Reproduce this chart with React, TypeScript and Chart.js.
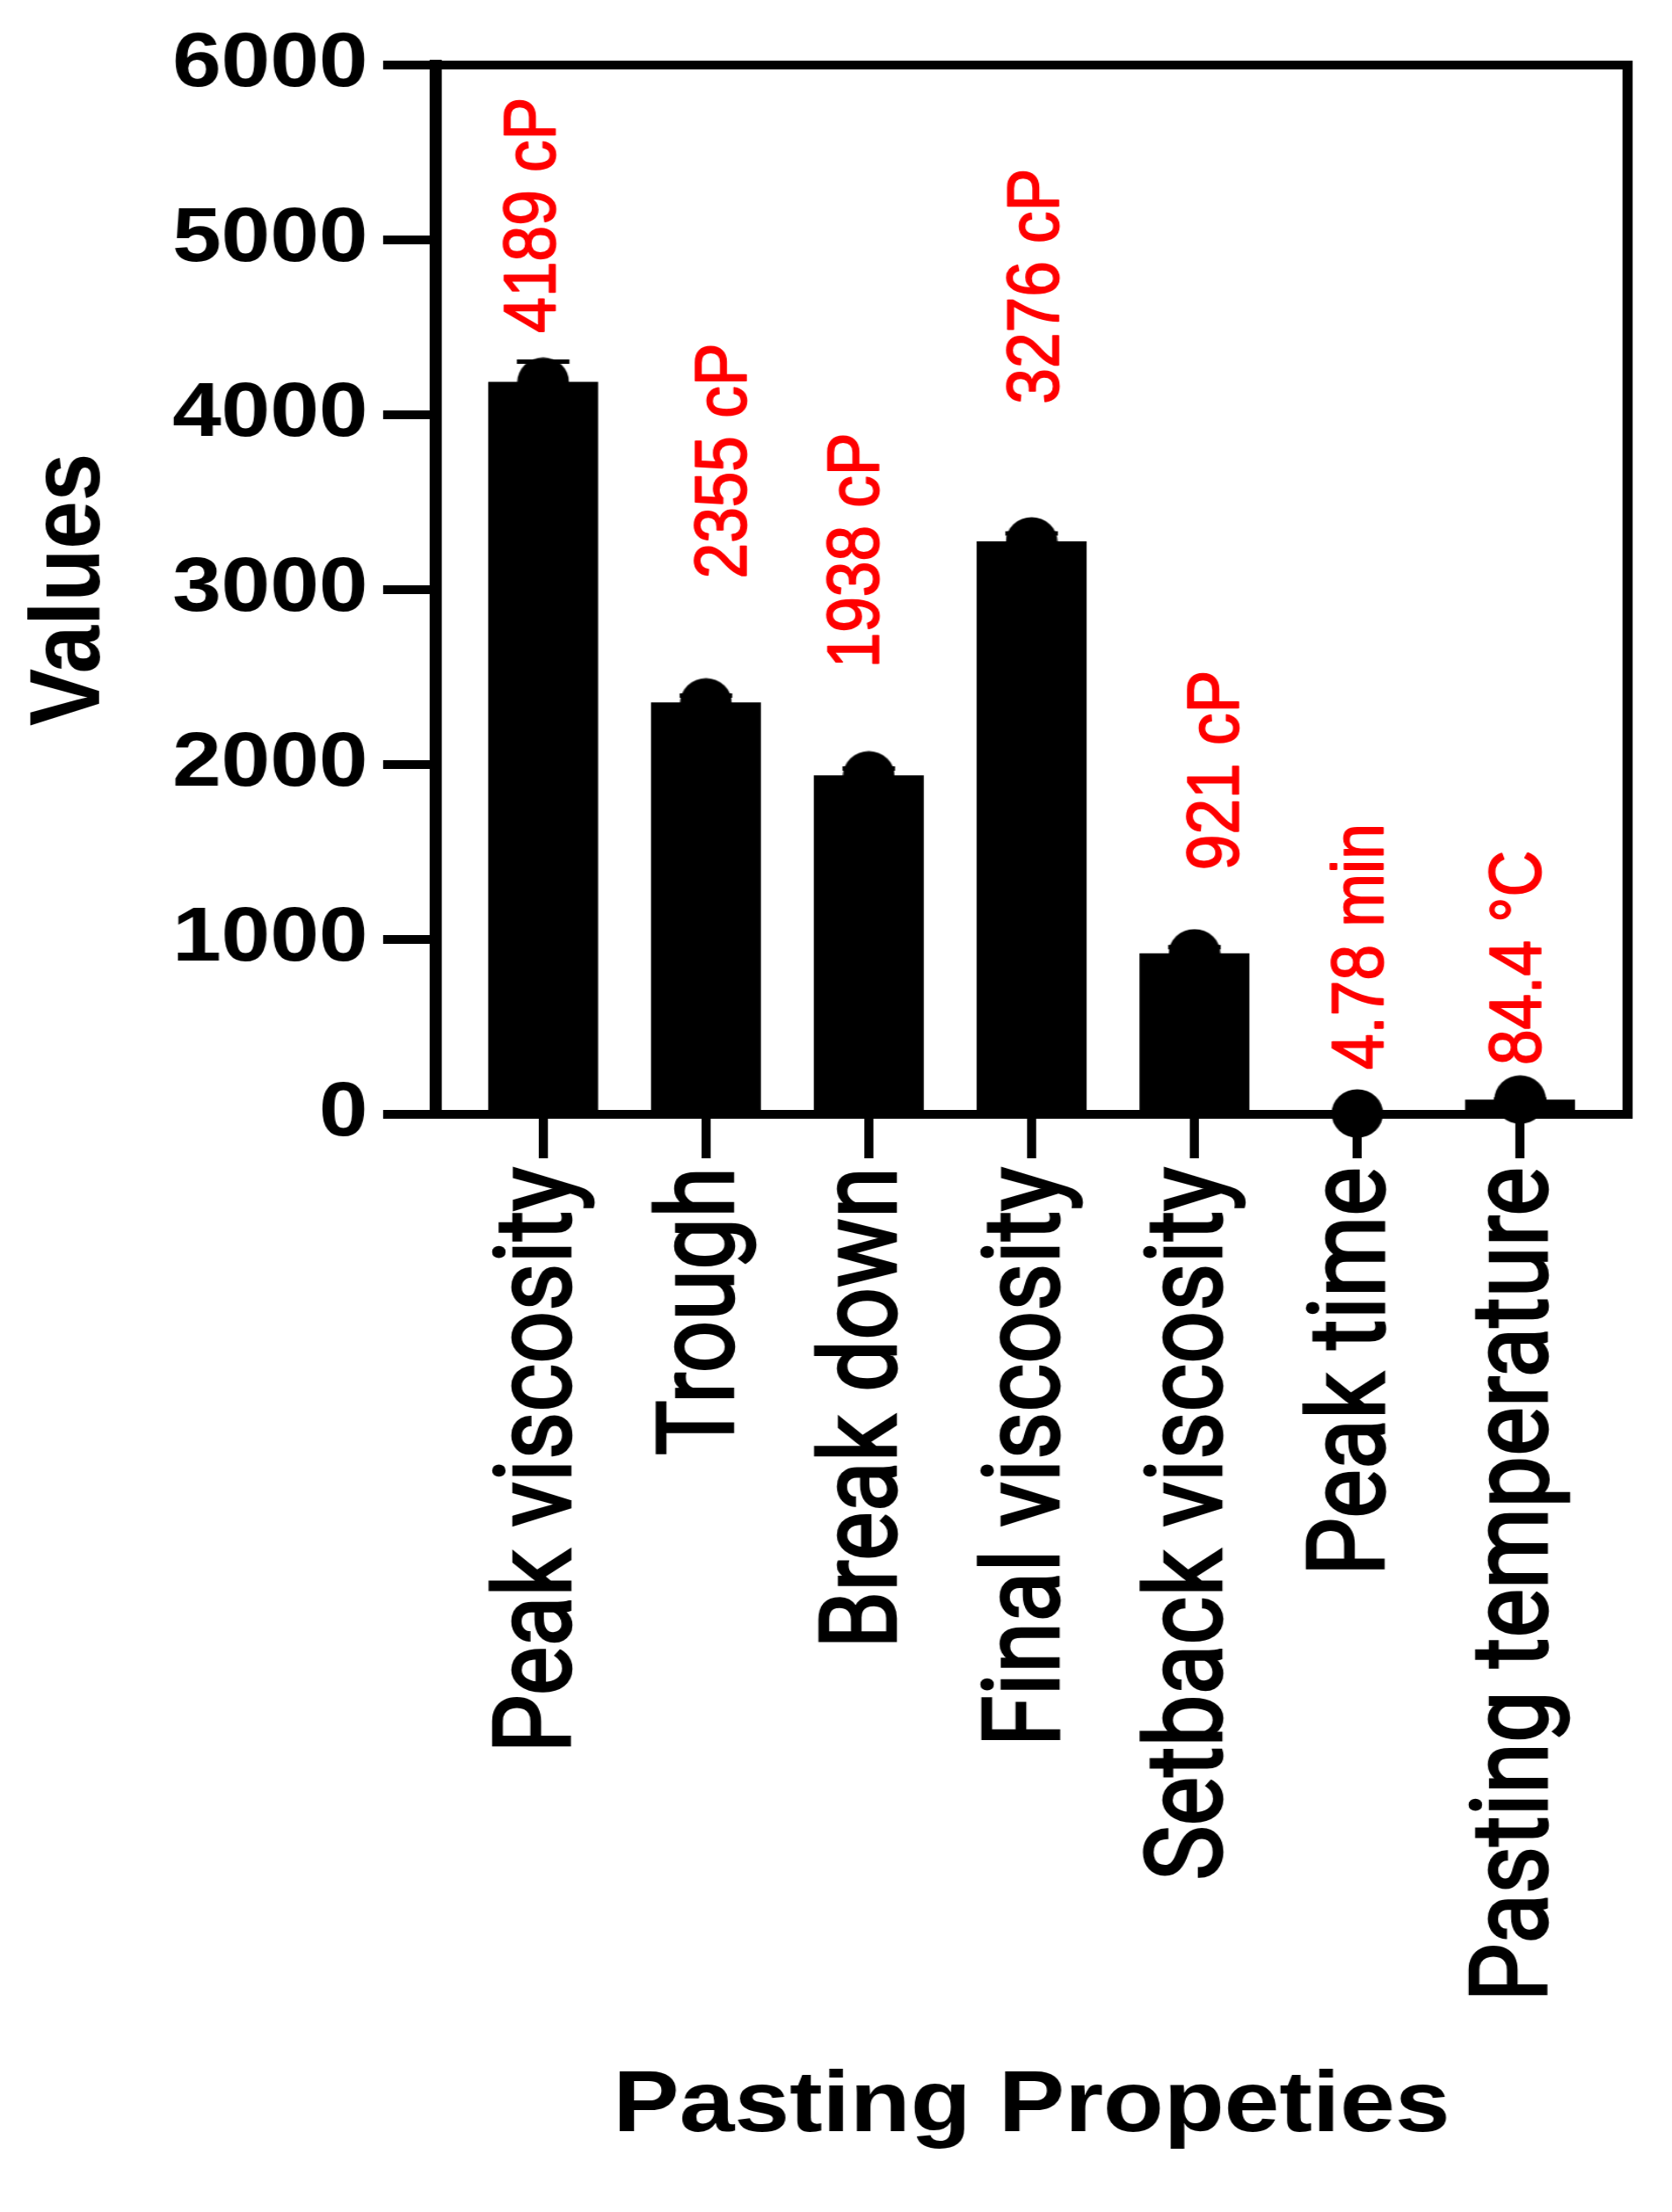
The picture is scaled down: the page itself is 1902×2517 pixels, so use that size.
import React, { useEffect, useRef } from 'react';
import { Chart, registerables } from 'chart.js';

Chart.register(...registerables);

// ---- data ----
const categories = [
  'Peak viscosity',
  'Trough',
  'Break down',
  'Final viscosity',
  'Setback viscosity',
  'Peak time',
  'Pasting temperature',
];
const values = [4189, 2355, 1938, 3276, 921, 4.78, 84.4];
const errors = [115, 40, 40, 45, 35, 0.2, 1.5];
const valueLabels = ['4189 cP', '2355 cP', '1938 cP', '3276 cP', '921 cP', '4.78 min', '84.4 °C'];
// value (y units) at which each red annotation starts, and its shift along x (category units)
const labelBase = [4469, 3063, 2551, 4062, 1396, 256, 281];
const labelShift = [-0.05, 0.12, -0.065, 0.04, 0.145, 0.03, 0];
const yTicks = [0, 1000, 2000, 3000, 4000, 5000, 6000];
const yTitle = 'Values';
const xTitle = 'Pasting Propeties';

// ---- page geometry ----
const PAGE_W = 1902;
const PAGE_H = 2517;
const W0 = 1654; // drawn width, stretched horizontally to the page width
const STRETCH = PAGE_W / W0;

const decorPlugin = {
  id: 'decor',
  afterDatasetDraw(chart: any, args: any) {
    if (args.index !== 0) return;
    const { ctx } = chart;
    const x = chart.scales.x;
    const y = chart.scales.y;
    ctx.save();
    ctx.strokeStyle = '#000';
    ctx.lineWidth = 5;
    values.forEach((v, i) => {
      const px = x.getPixelForValue(i);
      const top = y.getPixelForValue(v + errors[i]);
      const bot = y.getPixelForValue(v - errors[i]);
      ctx.beginPath();
      ctx.moveTo(px, bot);
      ctx.lineTo(px, top);
      ctx.moveTo(px - 26, top);
      ctx.lineTo(px + 26, top);
      ctx.stroke();
    });
    ctx.restore();
  },
  afterDraw(chart: any) {
    const { ctx, chartArea: a } = chart;
    const x = chart.scales.x;
    const y = chart.scales.y;
    ctx.save();
    ctx.strokeStyle = '#000';
    ctx.lineWidth = 10;
    ctx.lineCap = 'square';
    ctx.lineJoin = 'miter';
    ctx.beginPath();
    ctx.moveTo(a.left, a.top);
    ctx.lineTo(a.right, a.top);
    ctx.lineTo(a.right, a.bottom);
    ctx.stroke();

    ctx.fillStyle = '#ff0000';
    ctx.strokeStyle = '#ff0000';
    ctx.lineWidth = 1.6;
    ctx.lineJoin = 'round';
    ctx.font = '73px "Liberation Sans", Arial, sans-serif';
    ctx.textAlign = 'left';
    ctx.textBaseline = 'middle';
    valueLabels.forEach((t, i) => {
      ctx.save();
      ctx.translate(x.getPixelForValue(i + labelShift[i]), y.getPixelForValue(labelBase[i]));
      ctx.rotate(-Math.PI / 2);
      ctx.fillText(t, 0, 0);
      ctx.strokeText(t, 0, 0);
      ctx.restore();
    });
    ctx.restore();
  },
};

export default function App() {
  const ref = useRef<HTMLCanvasElement>(null);

  useEffect(() => {
    if (!ref.current) return;
    const dot = document.createElement('canvas');
    dot.width = 52;
    dot.height = 56;
    const g = dot.getContext('2d')!;
    g.fillStyle = '#000';
    g.beginPath();
    g.ellipse(26, 28, 25.5, 27.5, 0, 0, Math.PI * 2);
    g.fill();

    const points = values.map((v, i) => ({ x: i, y: v }));
    const titleFont = { family: '"Liberation Sans", Arial, sans-serif', size: 98, weight: 'bold' as const };

    const chart = new Chart(ref.current, {
      type: 'bar',
      data: {
        datasets: [
          {
            type: 'bar',
            data: points,
            backgroundColor: '#000',
            borderWidth: 0,
            barPercentage: 1,
            categoryPercentage: 0.675,
            order: 1,
          } as any,
          {
            type: 'line',
            data: points,
            showLine: false,
            pointStyle: dot,
            pointRadius: 27,
            pointBackgroundColor: '#000',
            pointBorderWidth: 0,
            clip: false,
            order: 0,
          } as any,
        ],
      },
      options: {
        animation: false,
        responsive: false,
        devicePixelRatio: 1,
        layout: { padding: { top: 74, right: 44, bottom: 0, left: 0 } },
        plugins: { legend: { display: false }, tooltip: { enabled: false } },
        scales: {
          x: {
            type: 'linear',
            min: -0.66,
            max: 6.66,
            offset: false,
            grid: {
              offset: false,
              drawOnChartArea: false,
              drawTicks: true,
              tickLength: 50,
              tickWidth: 9,
              lineWidth: 9,
              color: '#000',
              tickColor: '#000',
            },
            border: { display: true, color: '#000', width: 10 },
            ticks: {
              autoSkip: false,
              minRotation: 90,
              maxRotation: 90,
              padding: 10,
              color: '#000',
              textStrokeColor: '#000',
              textStrokeWidth: 2.5,
              font: { family: 'Roboto, "Liberation Sans", sans-serif', size: 105 },
              callback: (v: any) => categories[v] ?? '',
            },
            afterBuildTicks: (s: any) => {
              s.ticks = categories.map((_, i) => ({ value: i }));
            },
            afterFit: (s: any) => {
              s.height = PAGE_H - 1268;
            },
            title: {
              display: true,
              text: xTitle,
              color: '#000',
              font: titleFont,
              padding: { top: 0, bottom: 60 },
            },
          } as any,
          y: {
            type: 'linear',
            min: 0,
            max: 6000,
            grid: {
              drawOnChartArea: false,
              tickLength: 52,
              tickWidth: 10,
              lineWidth: 10,
              color: '#000',
              tickColor: '#000',
            },
            border: { display: true, color: '#000', width: 12 },
            ticks: {
              padding: 15,
              color: '#000',
              font: { family: '"Liberation Sans", Arial, sans-serif', size: 87, weight: 'bold' },
              callback: (v: any) => String(v),
            },
            afterBuildTicks: (s: any) => {
              s.ticks = yTicks.map((v) => ({ value: v }));
            },
            afterFit: (s: any) => {
              s.width = 431;
            },
            title: {
              display: true,
              text: yTitle,
              color: '#000',
              font: titleFont,
              padding: { top: 12, bottom: 0 },
            },
          } as any,
        },
      },
      plugins: [decorPlugin],
    });
    return () => chart.destroy();
  }, []);

  return (
    <div
      style={{
        position: 'absolute',
        left: 0,
        top: 0,
        width: PAGE_W,
        height: PAGE_H,
        overflow: 'hidden',
        background: '#fff',
      }}
    >
      <div style={{ width: W0, height: PAGE_H, transform: `scaleX(${STRETCH})`, transformOrigin: '0 0' }}>
        <canvas ref={ref} width={W0} height={PAGE_H} style={{ display: 'block', width: W0, height: PAGE_H }} />
      </div>
    </div>
  );
}
